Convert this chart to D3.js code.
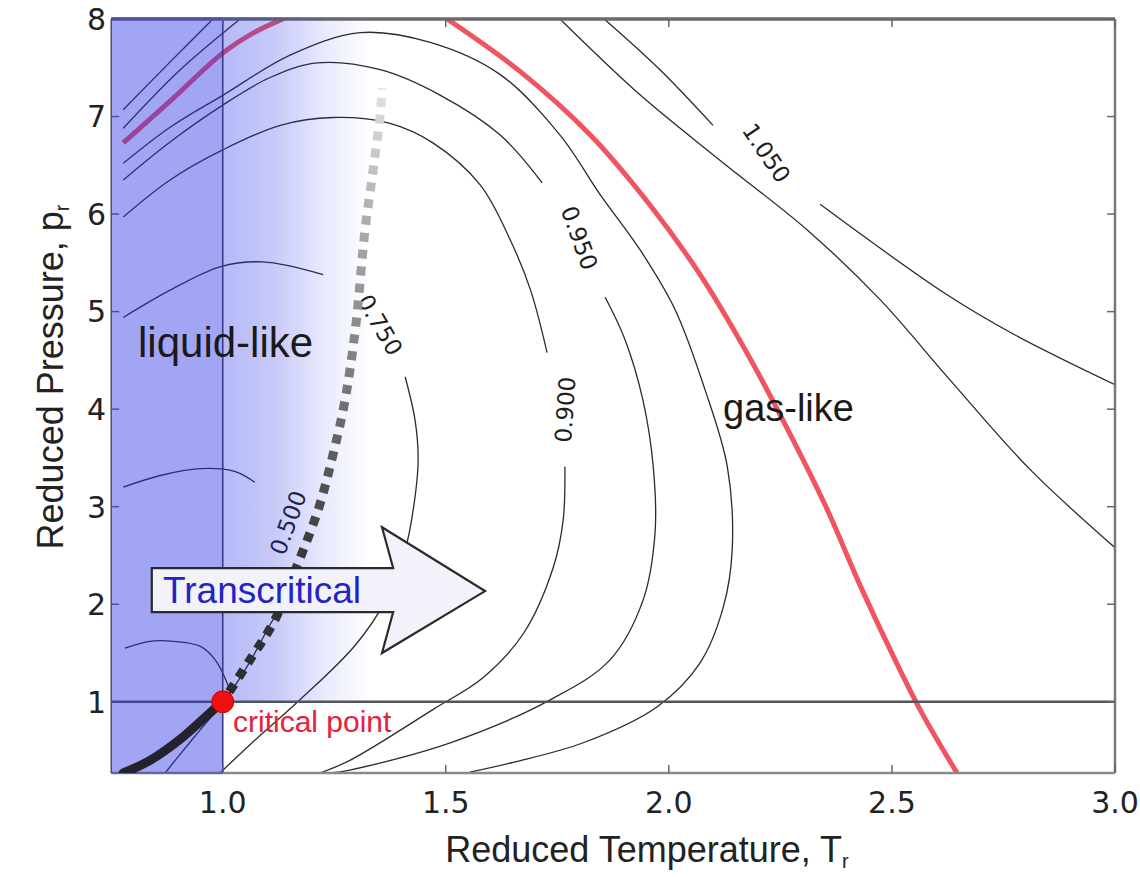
<!DOCTYPE html>
<html><head><meta charset="utf-8">
<script src="https://cdn.jsdelivr.net/npm/d3@7"></script>
<style>html,body{margin:0;padding:0;background:#fff;}svg{display:block;}</style>
</head><body>
<svg id="chart" width="1140" height="877"></svg>
<script>
// Axis ticks
const tickX = [1.0, 1.5, 2.0, 2.5, 3.0];
const tickXLabels = ["1.0", "1.5", "2.0", "2.5", "3.0"];
const tickY = [1, 2, 3, 4, 5, 6, 7, 8];
const tickYLabels = ["1", "2", "3", "4", "5", "6", "7", "8"];

// Saturation curve (Tr, pr) ending at the critical point
const saturation = [[0.777, 0.27], [0.837, 0.40], [0.911, 0.64], [0.972, 0.89], [1.0, 1.0]];
const criticalPoint = [1.0, 1.0];
// Pseudo-boiling line leaving the critical point
const widom = [[1.0, 1.0], [1.061, 1.43], [1.117, 1.84], [1.167, 2.40], [1.214, 2.97], [1.247, 3.53],
  [1.274, 4.09], [1.297, 4.81], [1.319, 5.84], [1.337, 6.45], [1.353, 7.02], [1.357, 7.29]];

// Compressibility-factor isolines, [Tr, pr]; null leaves room for the inline label
const z030 = [[0.781, 1.55], [0.837, 1.62], [0.889, 1.62], [0.949, 1.57], [0.983, 1.43], [1.010, 1.19], [1.019, 1.05]];
const z050 = [[0.777, 3.20], [0.860, 3.32], [0.949, 3.39], [1.028, 3.36], [1.072, 3.25], null,
  [1.167, 2.30], [1.140, 2.04], [1.106, 1.79], [1.061, 1.41], [1.005, 1.02], [0.949, 0.71], [0.897, 0.42], [0.871, 0.27]];
const z075 = [[0.777, 4.94], [0.882, 5.22], [0.994, 5.46], [1.090, 5.51], [1.225, 5.38], null,
  [1.409, 4.33], [1.431, 3.89], [1.438, 3.48], [1.427, 2.97], [1.409, 2.56], [1.365, 2.04], [1.297, 1.58],
  [1.173, 1.02], [1.061, 0.56], [0.994, 0.27]];
const z090 = [[0.777, 5.97], [0.882, 6.35], [1.001, 6.66], [1.129, 6.91], [1.247, 6.99], [1.375, 6.93],
  [1.471, 6.73], [1.577, 6.30], [1.645, 5.73], [1.690, 5.22], [1.727, 4.58], null,
  [1.767, 3.41], [1.763, 2.86], [1.741, 2.38], [1.674, 1.70], [1.584, 1.25], [1.471, 0.92], [1.285, 0.40], [1.218, 0.27]];
const z095 = [[0.777, 6.35], [0.882, 6.74], [1.001, 7.12], [1.106, 7.40], [1.211, 7.55], [1.353, 7.48],
  [1.487, 7.22], [1.622, 6.81], [1.716, 6.32], null,
  [1.857, 5.15], [1.902, 4.71], [1.942, 4.09], [1.965, 3.41], [1.969, 2.73], [1.942, 2.04], [1.868, 1.43],
  [1.734, 1.02], [1.510, 0.58], [1.285, 0.30], [1.240, 0.27]];
const z0975 = [[0.777, 6.52], [0.882, 6.89], [1.001, 7.22], [1.151, 7.63], [1.308, 7.86], [1.465, 7.76],
  [1.622, 7.43], [1.756, 6.81], [1.846, 6.20], [1.936, 5.63], [2.014, 5.02], [2.081, 4.20], [2.131, 3.41],
  [2.142, 2.56], [2.122, 1.97], [2.070, 1.40], [1.974, 0.95], [1.808, 0.58], [1.651, 0.38], [1.554, 0.28]];
const z100Liquid = [[0.777, 6.73], [0.880, 7.15], [1.0, 7.65], [1.07, 7.86], [1.135, 8.0]];
const z100Gas = [[1.503, 8.0], [1.667, 7.46], [1.824, 6.81], [1.958, 6.09], [2.070, 5.38], [2.171, 4.61],
  [2.261, 3.84], [2.350, 3.02], [2.433, 2.15], [2.507, 1.43], [2.563, 0.92], [2.608, 0.56], [2.646, 0.27]];
const z1025Liquid = [[0.777, 6.88], [0.90, 7.46], [1.039, 8.0]];
const z1025Gas = [[1.756, 8.0], [1.936, 7.22], [2.115, 6.55], [2.312, 5.83], [2.474, 5.12], [2.630, 4.30],
  [2.810, 3.38], [3.0, 2.58]];
const z105Liquid = [[0.777, 7.07], [0.88, 7.55], [0.978, 8.0]];
const z105Gas = [[1.855, 8.0], [1.980, 7.48], [2.099, 6.91], null, [2.339, 6.10], [2.621, 5.18], [2.776, 4.76], [3.0, 4.25]];

const thinLines = [z030, z050, z075, z090, z095, z0975, z1025Liquid, z1025Gas, z105Liquid, z105Gas];
const unityLines = [z100Liquid, z100Gas];
const contourLabels = [
  { text: "0.500", line: z050 },
  { text: "0.750", line: z075 },
  { text: "0.900", line: z090 },
  { text: "0.950", line: z095 },
  { text: "1.050", line: z105Gas }
];
// orientation (deg) and nudge (px) of each inline label
const labelStyle = {
  "0.500": { angle: -70, dx: 12, dy: -6 },
  "0.750": { angle: 60, dx: 16, dy: -1 },
  "0.900": { angle: -86, dx: 9, dy: 0 },
  "0.950": { angle: 70, dx: 6, dy: -2 },
  "1.050": { angle: 56, dx: 0, dy: -12 }
};

const svg = d3.select("#chart");
const x = d3.scaleLinear().domain([0.75, 3.0]).range([111.2, 1115]);
const y = d3.scaleLinear().domain([0.27, 8]).range([773, 19]);
const [x0, x1] = x.range();
const [yb, yt] = y.range();

const defs = svg.append("defs");
defs.append("clipPath").attr("id", "plotClip").append("rect")
  .attr("x", x0).attr("y", yt).attr("width", x1 - x0).attr("height", yb - yt);
const fade = defs.append("linearGradient").attr("id", "fade").attr("x1", 0).attr("x2", 1).attr("y1", 0).attr("y2", 0);
[[0, 0.34], [0.35, 0.26], [0.7, 0.1], [1, 0]].forEach(([o, a]) =>
  fade.append("stop").attr("offset", o).attr("stop-color", "rgb(40,50,230)").attr("stop-opacity", a));
const dotFade = defs.append("linearGradient").attr("id", "dotFade").attr("gradientUnits", "userSpaceOnUse")
  .attr("x1", 0).attr("x2", 0).attr("y1", y(1)).attr("y2", y(7.3));
[[0, "#2a2a2a"], [0.25, "#3a3a3a"], [0.55, "#808080"], [0.8, "#b0b0b0"], [1, "#e2e2e2"]].forEach(([o, c]) =>
  dotFade.append("stop").attr("offset", o).attr("stop-color", c));

const line = d3.line().defined(d => d).x(d => x(d[0])).y(d => y(d[1])).curve(d3.curveCatmullRom.alpha(0.5));
const plot = svg.append("g").attr("clip-path", "url(#plotClip)");

// isolines
plot.selectAll("path.iso").data(thinLines).join("path").attr("class", "iso")
  .attr("d", line).attr("fill", "none").attr("stroke", "#2b2b2b").attr("stroke-width", 1.3);
plot.selectAll("path.unity").data(unityLines).join("path").attr("class", "unity")
  .attr("d", line).attr("fill", "none").attr("stroke", "#ef5560").attr("stroke-width", 5);

// inline labels sit in the gaps of their isolines
contourLabels.forEach(lb => {
  const i = lb.line.indexOf(null);
  const a = lb.line[i - 1], b = lb.line[i + 1];
  const st = labelStyle[lb.text];
  const cx = (x(a[0]) + x(b[0])) / 2 + st.dx, cy = (y(a[1]) + y(b[1])) / 2 + st.dy;
  plot.append("text").attr("transform", `translate(${cx},${cy}) rotate(${st.angle})`)
    .attr("text-anchor", "middle").attr("dy", "0.36em")
    .attr("font-family", "DejaVu Sans").attr("font-size", 23).attr("fill", "#1e1e1e").text(lb.text);
});

// reference lines at Tr = 1 and pr = 1
plot.append("line").attr("x1", x(1)).attr("x2", x(1)).attr("y1", yb).attr("y2", yt)
  .attr("stroke", "#404050").attr("stroke-width", 1.6);
plot.append("line").attr("x1", x0).attr("x2", x1).attr("y1", y(1)).attr("y2", y(1))
  .attr("stroke", "#555").attr("stroke-width", 2.4);

// frame and inward ticks
const frame = svg.append("g");
frame.append("line").attr("x1", x0).attr("x2", x1).attr("y1", yt).attr("y2", yt).attr("stroke", "#6a6a6a").attr("stroke-width", 3.5);
frame.append("line").attr("x1", x1).attr("x2", x1).attr("y1", yt).attr("y2", yb).attr("stroke", "#777").attr("stroke-width", 2.5);
frame.append("line").attr("x1", x0).attr("x2", x1).attr("y1", yb).attr("y2", yb).attr("stroke", "#8a8a8a").attr("stroke-width", 2.5);
frame.append("line").attr("x1", x0).attr("x2", x0).attr("y1", yt).attr("y2", yb).attr("stroke", "#555").attr("stroke-width", 1.5);
tickX.forEach(t => {
  frame.append("line").attr("x1", x(t)).attr("x2", x(t)).attr("y1", yb).attr("y2", yb - 8).attr("stroke", "#666").attr("stroke-width", 1.5);
  frame.append("line").attr("x1", x(t)).attr("x2", x(t)).attr("y1", yt).attr("y2", yt + 8).attr("stroke", "#666").attr("stroke-width", 1.5);
});
tickY.forEach(t => {
  frame.append("line").attr("x1", x0).attr("x2", x0 + 8).attr("y1", y(t)).attr("y2", y(t)).attr("stroke", "#666").attr("stroke-width", 1.5);
  frame.append("line").attr("x1", x1).attr("x2", x1 - 8).attr("y1", y(t)).attr("y2", y(t)).attr("stroke", "#666").attr("stroke-width", 1.5);
});

// liquid-like shading: solid below Tr = 1, fading out above it in the supercritical band
const shade = svg.append("g");
shade.append("rect").attr("x", x0).attr("y", yt - 2).attr("width", x(1) - x0).attr("height", yb - yt + 3)
  .attr("fill", "rgb(40,50,230)").attr("fill-opacity", 0.44);
shade.append("rect").attr("x", x(1)).attr("y", yt - 2).attr("width", x(1.33) - x(1)).attr("height", y(1) - yt + 2)
  .attr("fill", "url(#fade)");

// pseudo-boiling line, saturation curve and critical point
const upper = svg.append("g").attr("clip-path", "url(#plotClip)");
upper.append("path").datum(widom).attr("d", line).attr("fill", "none")
  .attr("stroke", "url(#dotFade)").attr("stroke-width", 9).attr("stroke-dasharray", "9,8").attr("stroke-dashoffset", -12);
upper.append("path").datum(saturation).attr("d", line).attr("fill", "none")
  .attr("stroke", "#23232e").attr("stroke-width", 9).attr("stroke-linecap", "round");
svg.append("circle").attr("cx", x(criticalPoint[0])).attr("cy", y(criticalPoint[1])).attr("r", 11)
  .attr("fill", "#f01010").attr("stroke", "#c00").attr("stroke-width", 1);

// annotations
const font = "Liberation Sans, Arial, sans-serif";
svg.append("text").attr("x", 138).attr("y", 357).attr("font-family", font).attr("font-size", 42).attr("fill", "#1a1a1a").text("liquid-like");
svg.append("text").attr("x", 723).attr("y", 421).attr("font-family", font).attr("font-size", 38).attr("fill", "#1a1a1a").text("gas-like");
svg.append("text").attr("x", 233).attr("y", 732).attr("font-family", font).attr("font-size", 30).attr("fill", "#e8203a").text("critical point");

// transcritical block arrow
const bodyL = x(0.841), bodyR = x(1.382), headBack = x(1.357), tip = x(1.588);
const bodyT = y(2.371), bodyB = y(1.920), headT = y(2.79), headB = y(1.50), tipY = y(2.135);
svg.append("path")
  .attr("d", `M${bodyL},${bodyT}L${bodyR},${bodyT}L${headBack},${headT}L${tip},${tipY}L${headBack},${headB}L${bodyR},${bodyB}L${bodyL},${bodyB}Z`)
  .attr("fill", "#f1f2fa").attr("stroke", "#2a2a2a").attr("stroke-width", 2.2).attr("stroke-linejoin", "miter");
svg.append("text").attr("x", 163).attr("y", 603).attr("font-family", font).attr("font-size", 37).attr("fill", "#2323c8").text("Transcritical");

// tick labels
svg.selectAll("text.xt").data(tickX).join("text").attr("class", "xt")
  .attr("x", d => x(d)).attr("y", 813).attr("text-anchor", "middle")
  .attr("font-family", "DejaVu Sans").attr("font-size", 30).attr("fill", "#222").text((d, i) => tickXLabels[i]);
svg.selectAll("text.yt").data(tickY).join("text").attr("class", "yt")
  .attr("x", 106).attr("y", d => y(d)).attr("dy", "0.36em").attr("text-anchor", "end")
  .attr("font-family", "DejaVu Sans").attr("font-size", 30).attr("fill", "#222").text((d, i) => tickYLabels[i]);

// axis titles
const xTitle = svg.append("text").attr("x", 647).attr("y", 862).attr("text-anchor", "middle")
  .attr("font-family", font).attr("font-size", 36).attr("fill", "#222");
xTitle.append("tspan").text("Reduced Temperature, T");
xTitle.append("tspan").attr("font-size", 20).attr("dy", 6).text("r");
const yTitle = svg.append("text").attr("transform", "translate(63,377) rotate(-90)").attr("text-anchor", "middle")
  .attr("font-family", font).attr("font-size", 36).attr("fill", "#222");
yTitle.append("tspan").text("Reduced Pressure, p");
yTitle.append("tspan").attr("font-size", 20).attr("dy", 6).text("r");
</script>
</body></html>
